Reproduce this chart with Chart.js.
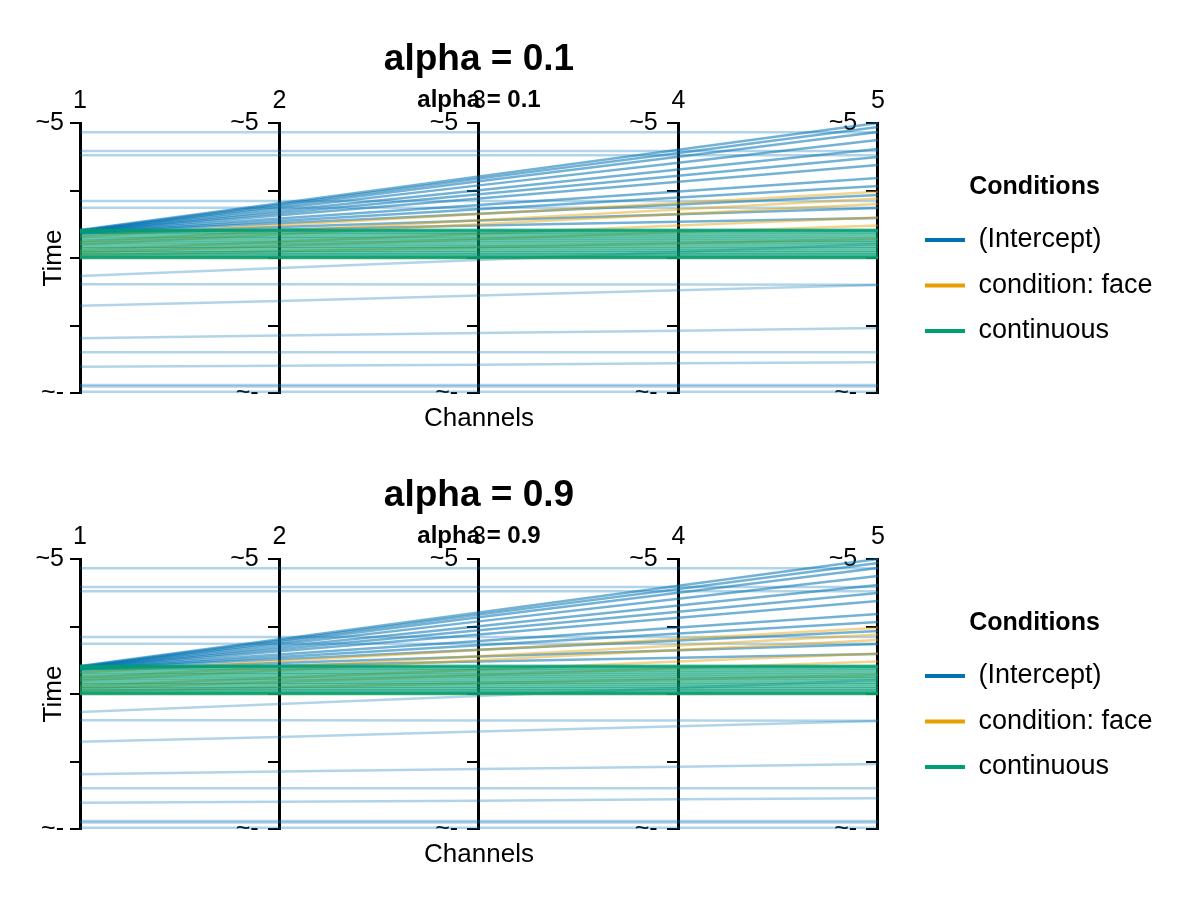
<!DOCTYPE html>
<html>
<head>
<meta charset="utf-8">
<script src="https://cdn.jsdelivr.net/npm/chart.js@4.4.1/dist/chart.umd.min.js"></script>
<style>
  html, body { margin: 0; padding: 0; background: #fff; }
  canvas { display: block; }
</style>
</head>
<body>
<canvas id="panel1" width="1200" height="436"></canvas>
<canvas id="panel2" width="1200" height="436"></canvas>
<script>
// channels on the x axis, values on a -5..5 scale
var channels = ['1', '2', '3', '4', '5'];
var yTickLabels = ['~-', '', '', '', '~5'];
var conditions = ['(Intercept)', 'condition: face', 'continuous'];
var panelTitles = ['alpha = 0.1', 'alpha = 0.9'];

// faint intercept lines (one row = one line over the 5 channels)
var interceptFaint = [
    [4.66, 4.66, 4.66, 4.66, 4.66],
    [3.96, 3.96, 3.96, 3.96, 3.96],
    [3.81, 3.81, 3.81, 3.81, 3.81],
    [2.11, 2.11, 2.11, 2.11, 2.11],
    [1.86, 1.86, 1.86, 1.86, 1.86],
    [-0.67, -0.37, -0.07, 0.22, 0.52],
    [-0.97, -0.97, -0.98, -0.98, -0.99],
    [-1.77, -1.59, -1.39, -1.19, -1.00],
    [-2.97, -2.87, -2.78, -2.69, -2.59],
    [-3.49, -3.49, -3.49, -3.49, -3.49],
    [-4.03, -3.99, -3.95, -3.90, -3.86],
    [-4.70, -4.70, -4.70, -4.70, -4.70],
    [-4.76, -4.76, -4.76, -4.76, -4.76],
    [-4.95, -4.95, -4.95, -4.95, -4.95]
];

// intercept lines fanning out from channel 1
var interceptFan = [
    [1.04, 2.03, 3.02, 4.01, 5.00],
    [1.02, 1.98, 2.94, 3.89, 4.85],
    [1.00, 1.92, 2.84, 3.75, 4.67],
    [1.00, 1.84, 2.69, 3.53, 4.37],
    [0.98, 1.75, 2.51, 3.28, 4.04],
    [0.98, 1.67, 2.36, 3.05, 3.74],
    [0.96, 1.58, 2.20, 2.82, 3.44],
    [0.96, 1.46, 1.96, 2.46, 2.96],
    [0.94, 1.37, 1.81, 2.24, 2.67],
    [0.94, 1.29, 1.64, 1.98, 2.33],
    [0.92, 1.15, 1.39, 1.62, 1.85],
    [0.92, 1.06, 1.20, 1.34, 1.48]
];

var faceLines = [
    [0.80, 1.21, 1.63, 2.04, 2.45],
    [0.60, 1.00, 1.40, 1.80, 2.20],
    [0.50, 0.88, 1.25, 1.63, 2.00],
    [0.30, 0.60, 0.90, 1.20, 1.50],
    [0.20, 0.45, 0.70, 0.95, 1.20],
    [0.10, 0.25, 0.40, 0.55, 0.70],
    [0.00, 0.00, 0.00, 0.00, 0.00]
];

var continuousLines = [
    [1.05, 1.05, 1.05, 1.05, 1.05],
    [1.03, 1.03, 1.02, 1.03, 1.03],
    [1.00, 1.00, 1.00, 1.00, 1.00],
    [0.95, 0.95, 0.94, 0.95, 0.95],
    [0.88, 0.88, 0.88, 0.87, 0.88],
    [0.80, 0.80, 0.80, 0.80, 0.80],
    [0.72, 0.73, 0.72, 0.72, 0.72],
    [0.65, 0.65, 0.65, 0.65, 0.64],
    [0.57, 0.57, 0.57, 0.57, 0.57],
    [0.50, 0.50, 0.49, 0.50, 0.50],
    [0.42, 0.42, 0.42, 0.42, 0.42],
    [0.35, 0.35, 0.35, 0.34, 0.35],
    [0.27, 0.27, 0.27, 0.27, 0.27],
    [0.20, 0.20, 0.20, 0.20, 0.20],
    [0.14, 0.14, 0.14, 0.14, 0.14],
    [0.08, 0.08, 0.08, 0.08, 0.08],
    [0.04, 0.04, 0.04, 0.04, 0.04],
    [0.02, 0.02, 0.02, 0.02, 0.02],
    [0.00, 0.00, 0.00, 0.00, 0.00]
];

var solid = ['#0072B2', '#E69F00', '#009E73'];

Chart.defaults.font.family = "'Liberation Sans', Arial, sans-serif";
Chart.defaults.color = '#000';

function lineSet(rows, color) {
    return rows.map(function (row) {
        return {
            data: row,
            borderColor: color,
            borderWidth: 2.5,
            pointRadius: 0,
            fill: false,
            clip: false
        };
    });
}

// inner axes put their labels flush against the line, so pad them
function channelAxis(pos, inner) {
    return {
        type: 'linear',
        axis: 'y',
        position: pos,
        min: -5,
        max: 5,
        grid: { drawOnChartArea: false, drawTicks: true, tickLength: 10, color: '#000', lineWidth: 2 },
        border: { display: true, color: '#000', width: 3 },
        ticks: {
            stepSize: 2.5,
            padding: 6,
            autoSkip: false,
            font: { size: 25 },
            color: '#000',
            callback: function (v, i) {
                var t = yTickLabels[i];
                return inner && t ? t + '\u00a0\u00a0\u00a0' : t;
            }
        }
    };
}

function makePanel(id, title) {
    var datasets = [].concat(
        lineSet(continuousLines, 'rgba(0, 158, 115, 0.6)'),
        lineSet(faceLines, 'rgba(230, 159, 0, 0.45)'),
        lineSet(interceptFan, 'rgba(0, 114, 178, 0.55)'),
        lineSet(interceptFaint, 'rgba(0, 114, 178, 0.3)')
    );

    var yMain = channelAxis('left', false);
    yMain.title = { display: true, text: 'Time', font: { size: 26 }, color: '#000', padding: { top: 38.4, bottom: 0 } };
    yMain.afterFit = function (s) { s.width = 80; };

    return new Chart(document.getElementById(id), {
        type: 'line',
        data: { labels: channels, datasets: datasets },
        options: {
            responsive: false,
            animation: false,
            events: [],
            layout: { padding: { left: 0, right: 37.4, top: 0, bottom: 0 } },
            scales: {
                x: {
                    type: 'category',
                    position: 'top',
                    offset: false,
                    grid: { display: false, drawTicks: false },
                    border: { display: false },
                    ticks: { padding: 7, maxRotation: 0, autoSkip: false, font: { size: 25 }, color: '#000' }
                },
                xb: {
                    type: 'category',
                    axis: 'x',
                    position: 'bottom',
                    labels: channels,
                    offset: false,
                    grid: { display: false, drawTicks: false },
                    border: { display: false },
                    ticks: { display: false },
                    title: { display: true, text: 'Channels', font: { size: 26 }, color: '#000', padding: { top: 10.4, bottom: 1.4 } }
                },
                y: yMain,
                y2: channelAxis({ x: 1 }, true),
                y3: channelAxis({ x: 2 }, true),
                y4: channelAxis({ x: 3 }, true),
                y5: channelAxis({ x: 4 }, true),
                gap: {
                    type: 'linear',
                    axis: 'y',
                    position: 'right',
                    grid: { display: false },
                    border: { display: false },
                    ticks: { display: false },
                    afterFit: function (s) { s.width = 28.5; }
                }
            },
            plugins: {
                title: {
                    display: true,
                    text: title,
                    fullSize: false,
                    font: { size: 37, weight: 'bold' },
                    color: '#000',
                    padding: { top: 37.3, bottom: -2.7 }
                },
                subtitle: {
                    display: true,
                    text: title,
                    fullSize: false,
                    font: { size: 24, weight: 'bold' },
                    color: '#000',
                    padding: { top: 7.1, bottom: -35.9 }
                },
                legend: {
                    position: 'right',
                    fullSize: false,
                    align: 'center',
                    maxWidth: 320,
                    title: {
                        display: true,
                        text: 'Conditions',
                        font: { size: 25, weight: 'bold' },
                        color: '#000',
                        padding: { top: 21.5, bottom: 3.5 }
                    },
                    labels: {
                        boxWidth: 40,
                        boxHeight: 4,
                        padding: 18.5,
                        font: { size: 27 },
                        color: '#000',
                        generateLabels: function () {
                            return conditions.map(function (c, i) {
                                return { text: c, fillStyle: solid[i], strokeStyle: solid[i], lineWidth: 0, hidden: false, datasetIndex: i };
                            });
                        }
                    }
                },
                tooltip: { enabled: false }
            }
        }
    });
}

makePanel('panel1', panelTitles[0]);
makePanel('panel2', panelTitles[1]);
</script>
</body>
</html>
